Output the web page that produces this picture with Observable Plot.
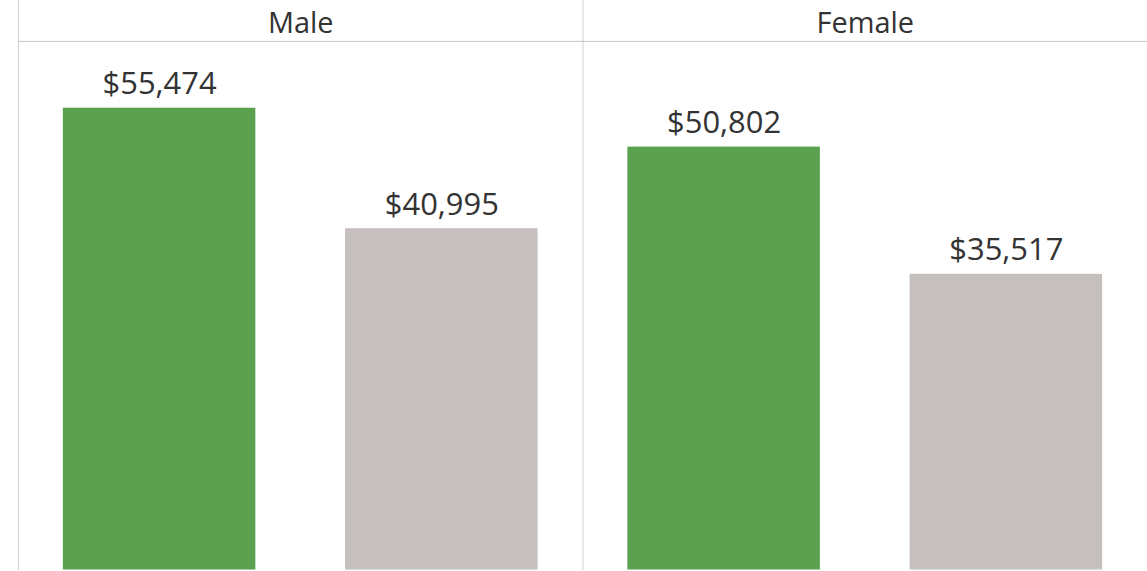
<!DOCTYPE html>
<html>
<head>
<meta charset="utf-8">
<script src="https://cdn.jsdelivr.net/npm/d3@7"></script>
<script src="https://cdn.jsdelivr.net/npm/@observablehq/plot@0.6"></script>
<style>
  html, body { margin: 0; padding: 0; background: #fff; overflow: hidden; }
  #chart svg { display: block; }
</style>
</head>
<body>
<div id="chart"></div>
<script>
const sexes = ["Male", "Female"];
const groups = ["Group A", "Group B"];
const valuesA = [55474, 50802];
const valuesB = [40995, 35517];
const colors = ["#5AA04F", "#C5C0BE"];

const data = [];
sexes.forEach((s, i) => {
  data.push({sex: s, group: groups[0], value: valuesA[i]});
  data.push({sex: s, group: groups[1], value: valuesB[i]});
});

const fmt = v => "$" + d3.format(",")(v);

const chart = Plot.plot({
  width: 1150,
  height: 571,
  marginLeft: 18,
  marginRight: 0,
  marginTop: 41,
  marginBottom: 0,
  style: {background: "#fff", fontFamily: "'Open Sans', Lato, sans-serif", color: "#333"},
  fx: {domain: sexes, paddingInner: 0, paddingOuter: 0, label: null},
  x: {domain: groups, paddingInner: 0.317, paddingOuter: 0.155, axis: null},
  y: {domain: [0, 63500], axis: null},
  color: {domain: groups, range: colors},
  marks: [
    Plot.frame({anchor: "left", stroke: "#cfcfcf", insetTop: -41}),
    Plot.frame({anchor: "top", stroke: "#c4c4c4"}),
    Plot.barY(data, {fx: "sex", x: "group", y: "value", fill: "group"}),
    Plot.text(data, {fx: "sex", x: "group", y: "value", text: d => fmt(d.value),
      lineAnchor: "bottom", dy: -14, fontSize: 31, fill: "#333"}),
    Plot.axisFx({anchor: "top", tickSize: 0, tickPadding: 8, fontSize: 29, label: null, fill: "#333"})
  ]
});
document.getElementById("chart").appendChild(chart);
</script>
</body>
</html>
